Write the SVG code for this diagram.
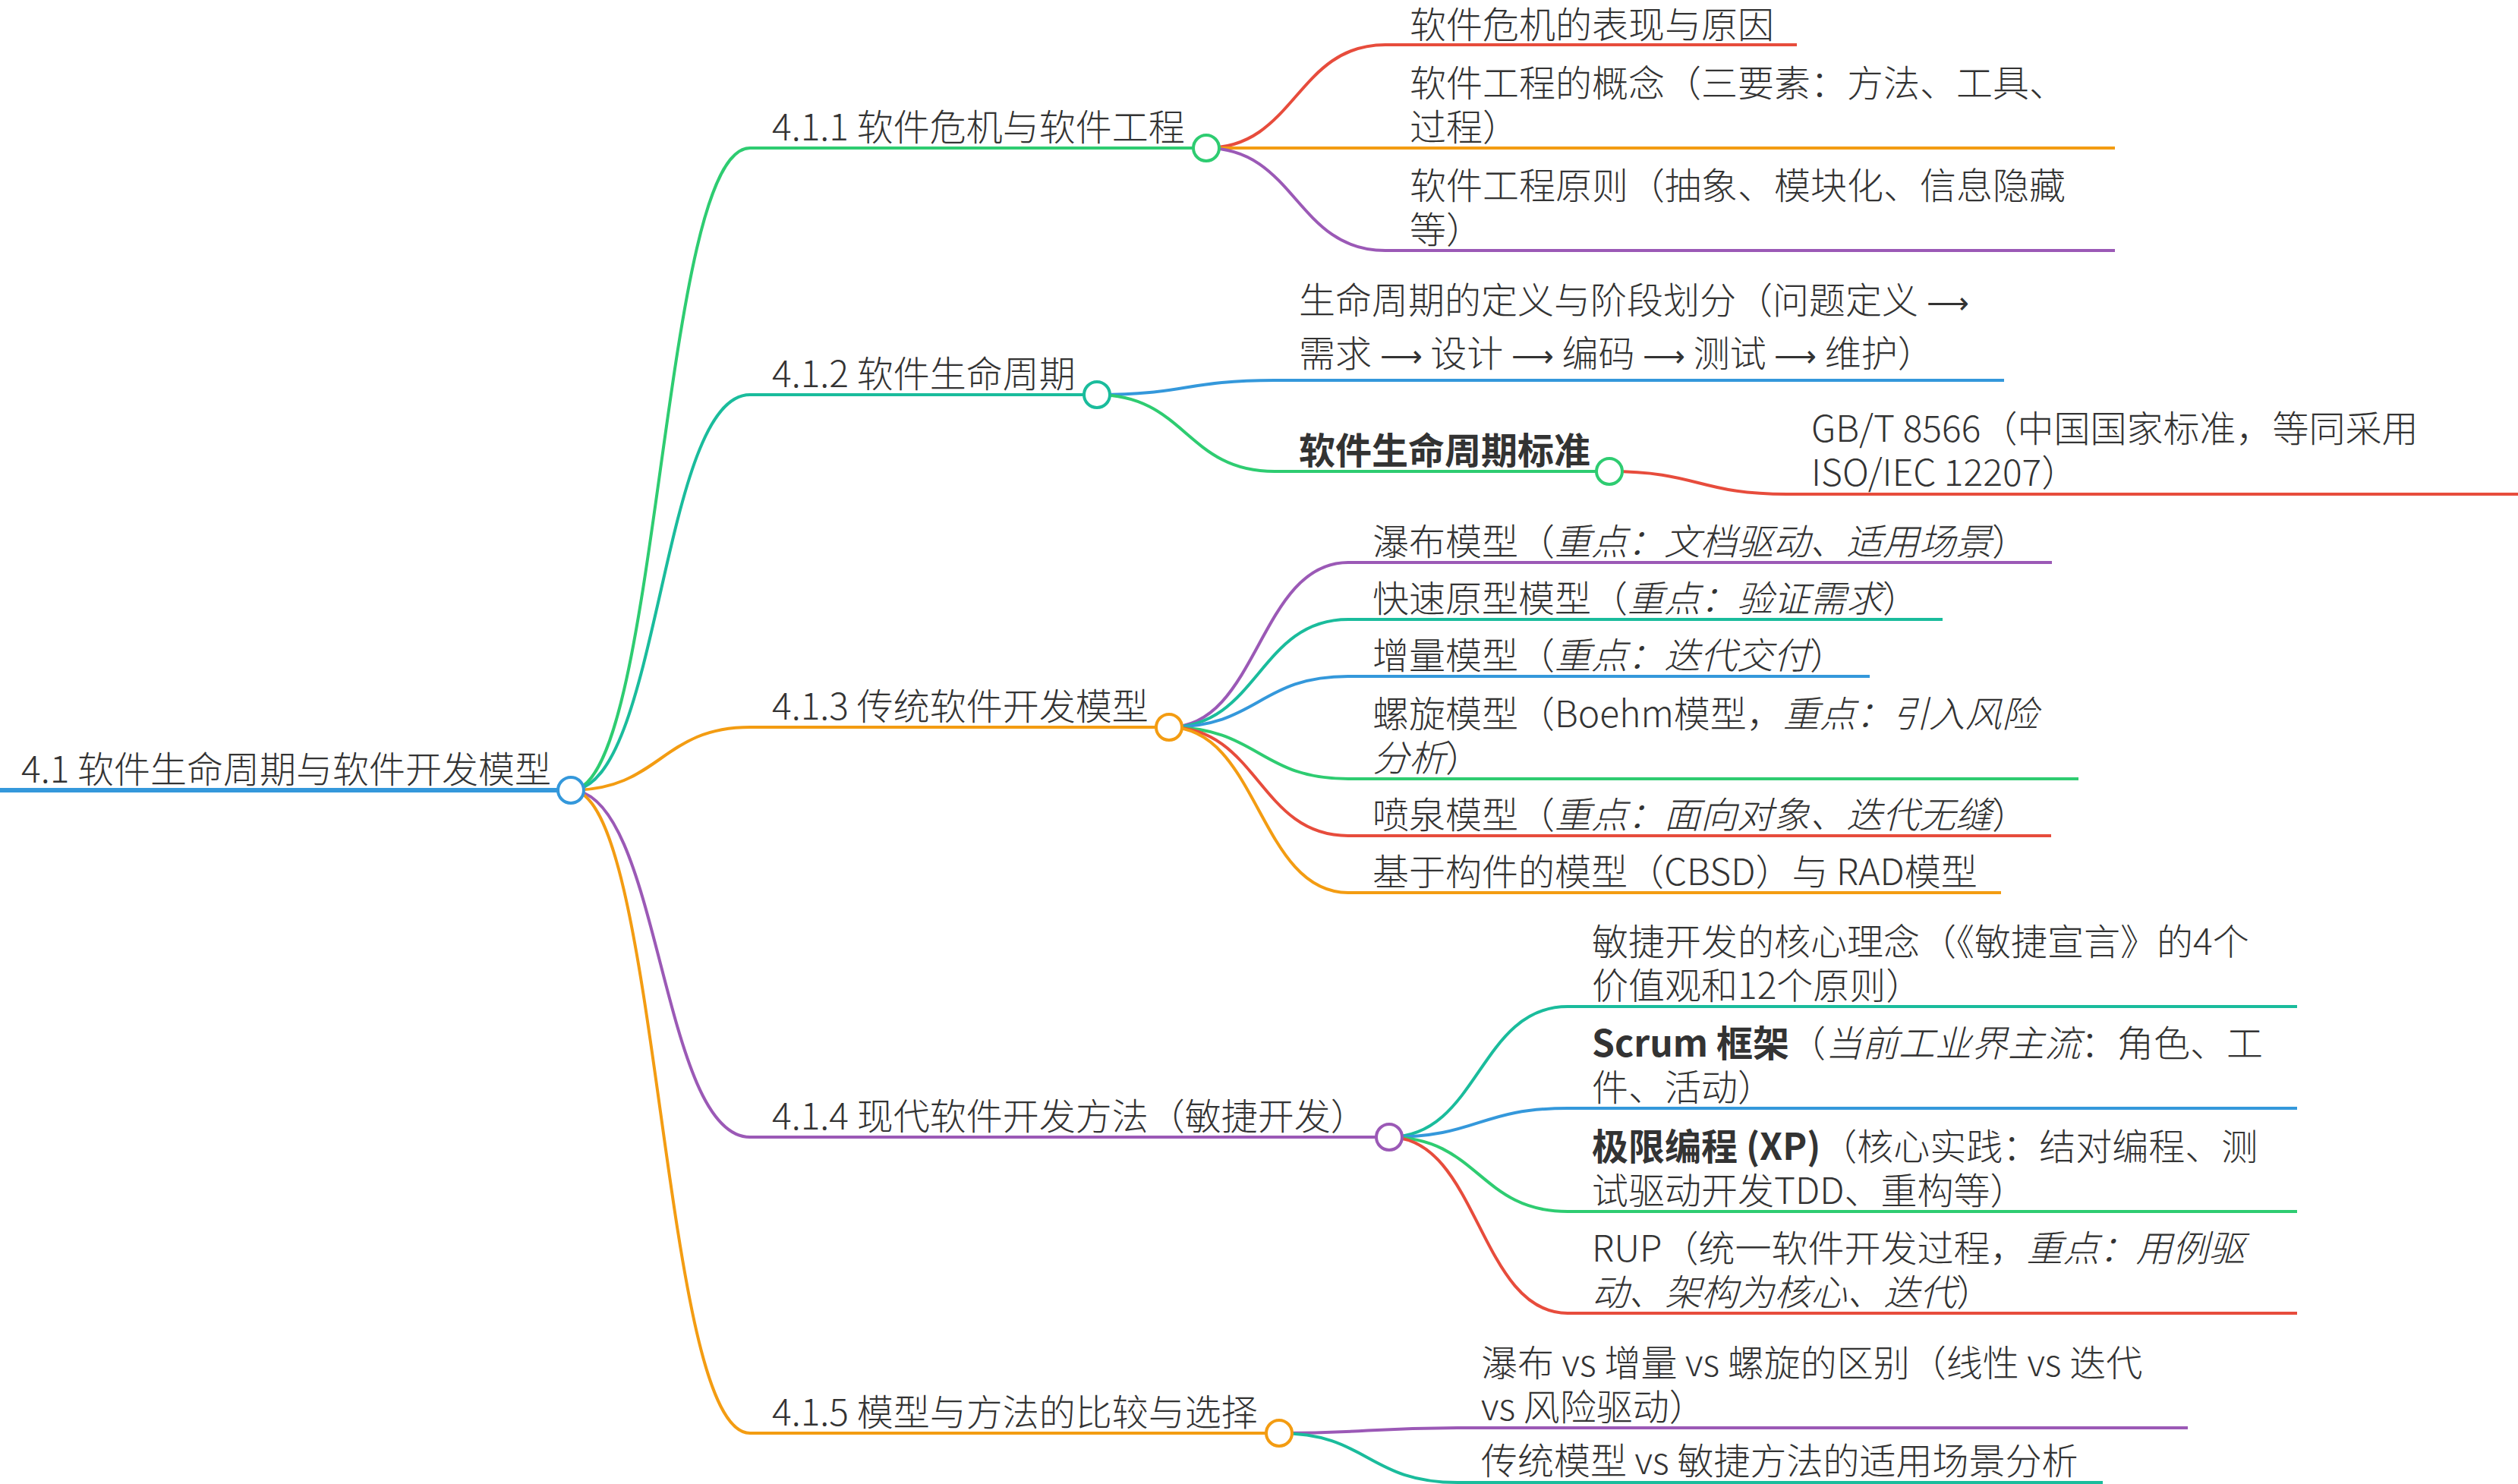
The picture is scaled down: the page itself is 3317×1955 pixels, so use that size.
<svg xmlns="http://www.w3.org/2000/svg" width="3317" height="1955" viewBox="0 0 3317 1955">
<style>
.t{font-family:"Noto Sans CJK SC","Noto Sans","DejaVu Sans",sans-serif;font-size:48px;fill:#333;font-weight:300}
.b{font-weight:700}
.i{font-style:italic}
.ar{font-family:"DejaVu Sans",sans-serif;font-size:39px}
.ln{fill:none;stroke-width:4}
.lk{fill:none;stroke-width:4}
.c{fill:#fff;stroke-width:4}
.red{stroke:#e74c3c}.org{stroke:#f39c12}.pur{stroke:#9b59b6}.blu{stroke:#3498db}.grn{stroke:#2ecc71}.tea{stroke:#1abc9c}
</style>
<rect width="3317" height="1955" fill="#fff"/>
<g id="connectors">
<path class="lk grn" d="M752,1041 C870,1041 870,195 988,195"/>
<path class="lk tea" d="M752,1041 C870,1041 870,520 988,520"/>
<path class="lk org" d="M752,1041 C870,1041 870,958 988,958"/>
<path class="lk pur" d="M752,1041 C870,1041 870,1498 988,1498"/>
<path class="lk org" d="M752,1041 C870,1041 870,1888 988,1888"/>
<path class="lk red" d="M1589,195 C1707,195 1707,59 1825,59"/>
<path class="lk org" d="M1589,195 L1825,195"/>
<path class="lk pur" d="M1589,195 C1707,195 1707,330 1825,330"/>
<path class="lk blu" d="M1445,520 C1562,520 1562,501 1679,501"/>
<path class="lk grn" d="M1445,520 C1562,520 1562,621 1679,621"/>
<path class="lk red" d="M2120,621 C2237,621 2237,651 2354,651"/>
<path class="lk pur" d="M1540,958 C1658,958 1658,741 1776,741"/>
<path class="lk tea" d="M1540,958 C1658,958 1658,816 1776,816"/>
<path class="lk blu" d="M1540,958 C1658,958 1658,891 1776,891"/>
<path class="lk grn" d="M1540,958 C1658,958 1658,1026 1776,1026"/>
<path class="lk red" d="M1540,958 C1658,958 1658,1101 1776,1101"/>
<path class="lk org" d="M1540,958 C1658,958 1658,1176 1776,1176"/>
<path class="lk tea" d="M1830,1498 C1948,1498 1948,1326 2065,1326"/>
<path class="lk blu" d="M1830,1498 C1948,1498 1948,1460 2065,1460"/>
<path class="lk grn" d="M1830,1498 C1948,1498 1948,1596 2065,1596"/>
<path class="lk red" d="M1830,1498 C1948,1498 1948,1730 2065,1730"/>
<path class="lk pur" d="M1685,1888 C1802,1888 1802,1881 1920,1881"/>
<path class="lk tea" d="M1685,1888 C1802,1888 1802,1953 1920,1953"/>
</g>
<g id="root">
<path class="ln blu" style="stroke-width:6" d="M0,1041 L752,1041"/>
<text class="t" x="28" y="1031">4.1 软件生命周期与软件开发模型</text>
<circle class="c blu" cx="752" cy="1041" r="17"/>
</g>
<g id="n411">
<path class="ln grn" d="M988,195 L1589,195"/>
<text class="t" x="1017" y="184.5">4.1.1 软件危机与软件工程</text>
<circle class="c grn" cx="1589" cy="195" r="17"/>
</g>
<g id="n411a">
<path class="ln red" d="M1825,59 L2367,59"/>
<text class="t" x="1857" y="49.5">软件危机的表现与原因</text>
</g>
<g id="n411b">
<path class="ln org" d="M1825,195 L2786,195"/>
<text class="t" x="1857" y="126.5">软件工程的概念（三要素：方法、工具、</text>
<text class="t" x="1857" y="184.5">过程）</text>
</g>
<g id="n411c">
<path class="ln pur" d="M1825,330 L2786,330"/>
<text class="t" x="1857" y="261.5">软件工程原则（抽象、模块化、信息隐藏</text>
<text class="t" x="1857" y="319.5">等）</text>
</g>
<g id="n412">
<path class="ln tea" d="M988,520 L1445,520"/>
<text class="t" x="1017" y="509.5">4.1.2 软件生命周期</text>
<circle class="c tea" cx="1445" cy="520" r="17"/>
</g>
<g id="n412a">
<path class="ln blu" d="M1679,501 L2640,501"/>
<text class="t" x="1711" y="413">生命周期的定义与阶段划分（问题定义 <tspan class="ar">⟶</tspan></text>
<text class="t" x="1711" y="483">需求 <tspan class="ar">⟶</tspan> 设计 <tspan class="ar">⟶</tspan> 编码 <tspan class="ar">⟶</tspan> 测试 <tspan class="ar">⟶</tspan> 维护）</text>
</g>
<g id="n412b">
<path class="ln grn" d="M1679,621 L2120,621"/>
<text class="t b" x="1711" y="610.5">软件生命周期标准</text>
<circle class="c grn" cx="2120" cy="621" r="17"/>
</g>
<g id="n412b1">
<path class="ln red" d="M2354,651 L3330,651"/>
<text class="t" x="2386" y="582">GB/T 8566（中国国家标准，等同采用</text>
<text class="t" x="2386" y="640">ISO/IEC 12207）</text>
</g>
<g id="n413">
<path class="ln org" d="M988,958 L1540,958"/>
<text class="t" x="1017" y="947.5">4.1.3 传统软件开发模型</text>
<circle class="c org" cx="1540" cy="958" r="17"/>
</g>
<g id="n413a">
<path class="ln pur" d="M1776,741 L2703,741"/>
<text class="t" x="1808" y="730.5">瀑布模型（<tspan class="i">重点：文档驱动、适用场景</tspan>）</text>
</g>
<g id="n413b">
<path class="ln tea" d="M1776,816 L2559,816"/>
<text class="t" x="1808" y="805.5">快速原型模型（<tspan class="i">重点：验证需求</tspan>）</text>
</g>
<g id="n413c">
<path class="ln blu" d="M1776,891 L2463,891"/>
<text class="t" x="1808" y="880.5">增量模型（<tspan class="i">重点：迭代交付</tspan>）</text>
</g>
<g id="n413d">
<path class="ln grn" d="M1776,1026 L2738,1026"/>
<text class="t" x="1808" y="957.5">螺旋模型（Boehm模型，<tspan class="i">重点：引入风险</tspan></text>
<text class="t" x="1808" y="1015.5"><tspan class="i">分析</tspan>）</text>
</g>
<g id="n413e">
<path class="ln red" d="M1776,1101 L2702,1101"/>
<text class="t" x="1808" y="1090.5">喷泉模型（<tspan class="i">重点：面向对象、迭代无缝</tspan>）</text>
</g>
<g id="n413f">
<path class="ln org" d="M1776,1176 L2636,1176"/>
<text class="t" x="1808" y="1165.5">基于构件的模型（CBSD）与 RAD模型</text>
</g>
<g id="n414">
<path class="ln pur" d="M988,1498 L1830,1498"/>
<text class="t" x="1017" y="1487.5">4.1.4 现代软件开发方法（敏捷开发）</text>
<circle class="c pur" cx="1830" cy="1498" r="17"/>
</g>
<g id="n414a">
<path class="ln tea" d="M2065,1326 L3026,1326"/>
<text class="t" x="2097" y="1257.5">敏捷开发的核心理念（《敏捷宣言》的4个</text>
<text class="t" x="2097" y="1315.5">价值观和12个原则）</text>
</g>
<g id="n414b">
<path class="ln blu" d="M2065,1460 L3026,1460"/>
<text class="t" x="2097" y="1392"><tspan class="b">Scrum 框架</tspan>（<tspan class="i">当前工业界主流</tspan>：角色、工</text>
<text class="t" x="2097" y="1450">件、活动）</text>
</g>
<g id="n414c">
<path class="ln grn" d="M2065,1596 L3026,1596"/>
<text class="t" x="2097" y="1527.5"><tspan class="b">极限编程 (XP)</tspan>（核心实践：结对编程、测</text>
<text class="t" x="2097" y="1585.5">试驱动开发TDD、重构等）</text>
</g>
<g id="n414d">
<path class="ln red" d="M2065,1730 L3026,1730"/>
<text class="t" x="2097" y="1661.5">RUP（统一软件开发过程，<tspan class="i">重点：用例驱</tspan></text>
<text class="t" x="2097" y="1719.5"><tspan class="i">动、架构为核心、迭代</tspan>）</text>
</g>
<g id="n415">
<path class="ln org" d="M988,1888 L1685,1888"/>
<text class="t" x="1017" y="1877.5">4.1.5 模型与方法的比较与选择</text>
<circle class="c org" cx="1685" cy="1888" r="17"/>
</g>
<g id="n415a">
<path class="ln pur" d="M1920,1881 L2882,1881"/>
<text class="t" x="1951" y="1812.5">瀑布 vs 增量 vs 螺旋的区别（线性 vs 迭代</text>
<text class="t" x="1951" y="1870.5">vs 风险驱动）</text>
</g>
<g id="n415b">
<path class="ln tea" d="M1920,1953 L2770,1953"/>
<text class="t" x="1951" y="1942">传统模型 vs 敏捷方法的适用场景分析</text>
</g>
</svg>
